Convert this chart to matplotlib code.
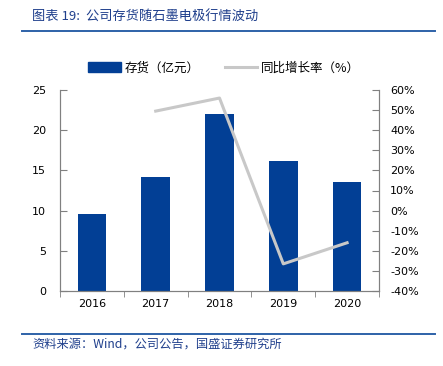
import numpy as np
import matplotlib
matplotlib.use('Agg')
import matplotlib.pyplot as plt
from matplotlib.lines import Line2D
from matplotlib.patches import Patch
from matplotlib.ticker import FuncFormatter

plt.rcParams['font.family'] = ['Noto Sans CJK SC', 'DejaVu Sans']

# Data
years = ['2016', '2017', '2018', '2019', '2020']
inventory = [9.6, 14.2, 22.0, 16.2, 13.6]          # 亿元
growth = [np.nan, 49.5, 56.0, -26.5, -16.0]        # %

bar_color = '#023F95'
line_color = '#C8C8C8'
text_blue = '#1F3F8C'
rule_blue = '#2E62A8'

fig = plt.figure(figsize=(4.43, 3.66), dpi=100)
ax = fig.add_axes([60 / 443, 75 / 366, 319 / 443, 201 / 366])
ax2 = ax.twinx()

x = np.arange(len(years))
ax.bar(x, inventory, width=0.45, color=bar_color, zorder=2)
ax2.plot(x, growth, color=line_color, lw=2.2, zorder=3)
ax.set_zorder(1)
ax2.set_zorder(2)

ax.set_xlim(-0.5, len(years) - 0.5)
ax.set_ylim(0, 25)
ax.set_yticks(np.arange(0, 26, 5))
ax2.set_ylim(-40, 60)
ax2.set_yticks(np.arange(-40, 61, 10))
ax2.yaxis.set_major_formatter(FuncFormatter(lambda v, p: '%d%%' % v))

ax.set_xticks(x)
ax.set_xticklabels(years)
ax.set_xticks(np.arange(-0.5, len(years), 1), minor=True)
ax.tick_params(axis='x', which='major', length=0, pad=6)
ax.tick_params(axis='x', which='minor', length=4, direction='out', color='#808080')
ax.tick_params(axis='y', direction='in', length=5, color='#808080', pad=10)
ax2.tick_params(axis='y', direction='in', length=5, color='#808080', pad=8)

for a in (ax, ax2):
    for t in a.get_xticklabels() + a.get_yticklabels():
        t.set_fontfamily('DejaVu Sans')
        t.set_fontsize(8)
    a.spines['top'].set_visible(False)
    for s in ('left', 'right', 'bottom'):
        a.spines[s].set_color('#808080')
        a.spines[s].set_linewidth(0.8)

# Legend
handles = [Patch(facecolor=bar_color, edgecolor=bar_color, label='存货（亿元）'),
           Line2D([0], [0], color=line_color, lw=2.2, label='同比增长率（%）')]
fig.legend(handles=handles, loc='center', bbox_to_anchor=(224 / 443, 1 - 68 / 366),
           ncol=2, frameon=False, fontsize=9, handlelength=2.6, handleheight=0.9,
           columnspacing=2.0, handletextpad=0.3)

# Title and source
fig.text(32 / 443, 1 - 17 / 366, '图表 19:  公司存货随石墨电极行情波动', color=text_blue,
         fontsize=9.5, style='italic', va='center', ha='left')
fig.add_artist(Line2D([22 / 443, 435 / 443], [1 - 31 / 366, 1 - 31 / 366],
                      color=rule_blue, lw=1.4, transform=fig.transFigure))
fig.add_artist(Line2D([22 / 443, 435 / 443], [1 - 334 / 366, 1 - 334 / 366],
                      color=rule_blue, lw=1.4, transform=fig.transFigure))
fig.text(32 / 443, 1 - 344 / 366, '资料来源：Wind，公司公告，国盛证券研究所', color=text_blue,
         fontsize=8.8, style='italic', va='center', ha='left')

fig.savefig('out.png', dpi=100)
